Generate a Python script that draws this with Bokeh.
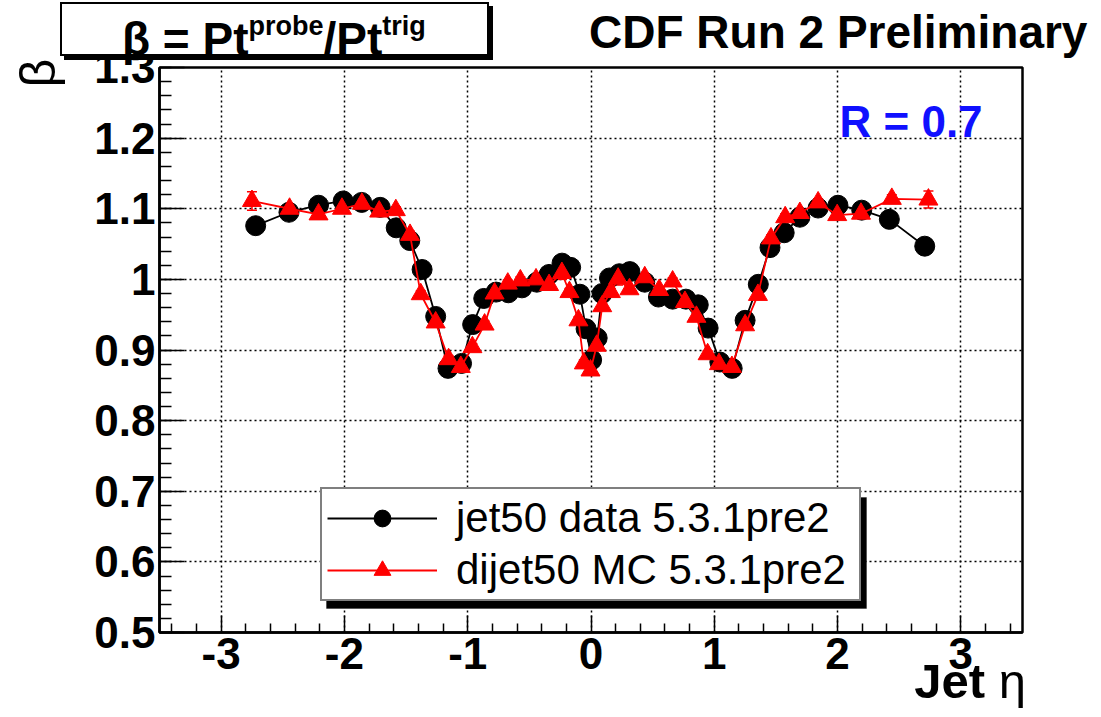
from bokeh.plotting import figure
from bokeh.models import (ColumnDataSource, FixedTicker, Label, Legend, LegendItem,
                          BoxAnnotation, Whisker, TeeHead, Range1d, Div)
from bokeh.embed import file_html
from bokeh.resources import INLINE

# ---------------- data ----------------
eta_data = [-2.72, -2.45, -2.21, -2.01, -1.86, -1.71, -1.58, -1.47, -1.37, -1.26, -1.16,
            -1.05, -0.96, -0.87, -0.77, -0.67, -0.56, -0.44, -0.34, -0.235, -0.165, -0.09,
            -0.04, 0.005, 0.05, 0.09, 0.15, 0.23, 0.315, 0.436, 0.547, 0.662, 0.77, 0.87,
            0.95, 1.045, 1.145, 1.25, 1.357, 1.452, 1.567, 1.694, 1.842, 2.003, 2.196, 2.42, 2.707]
beta_data = [1.076, 1.095, 1.105, 1.111, 1.109, 1.102, 1.073, 1.055, 1.014, 0.9475, 0.874,
             0.881, 0.936, 0.973, 0.982, 0.981, 0.988, 0.996, 1.007, 1.023, 1.017, 0.979,
             0.930, 0.886, 0.917, 0.980, 1.002, 1.008, 1.011, 0.996, 0.975, 0.972, 0.972, 0.964,
             0.931, 0.883, 0.874, 0.942, 0.993, 1.045, 1.066, 1.088, 1.101, 1.105, 1.098, 1.085, 1.047]

eta_mc = [-2.75, -2.445, -2.21, -2.02, -1.858, -1.718, -1.583, -1.468, -1.381, -1.26, -1.155,
          -1.056, -0.962, -0.863, -0.782, -0.675, -0.573, -0.446, -0.34, -0.236, -0.175, -0.102,
          -0.058, -0.004, 0.046, 0.091, 0.161, 0.22, 0.312, 0.436, 0.553, 0.662, 0.762, 0.855,
          0.946, 1.038, 1.143, 1.25, 1.354, 1.46, 1.575, 1.694, 1.842, 1.997, 2.19, 2.44, 2.737]
beta_mc = [1.111, 1.100, 1.092, 1.100, 1.107, 1.096, 1.098, 1.063, 0.979, 0.939, 0.887,
           0.876, 0.904, 0.936, 0.980, 0.994, 0.9985, 1.0, 0.992, 1.009, 0.982, 0.942,
           0.881, 0.871, 0.906, 0.962, 0.982, 1.001, 0.986, 1.003, 0.985, 0.997, 0.968, 0.947,
           0.894, 0.880, 0.876, 0.935, 0.978, 1.058, 1.088, 1.094, 1.109, 1.091, 1.093, 1.114, 1.113]
err_mc = [0.013, 0.006, 0.006, 0.005, 0.005, 0.005, 0.005, 0.005, 0.005, 0.005, 0.005,
          0.005, 0.005, 0.005, 0.005, 0.005, 0.005, 0.005, 0.005, 0.009, 0.005, 0.005,
          0.005, 0.005, 0.005, 0.005, 0.005, 0.009, 0.005, 0.005, 0.005, 0.005, 0.005, 0.005,
          0.005, 0.005, 0.005, 0.005, 0.005, 0.005, 0.005, 0.005, 0.005, 0.005, 0.006, 0.006, 0.012]

x_ticks = [-3, -2, -1, 0, 1, 2, 3]
x_tick_labels = ["-3", "-2", "-1", "0", "1", "2", "3"]
y_ticks = [0.5, 0.6, 0.7, 0.8, 0.9, 1, 1.1, 1.2, 1.3]
y_tick_labels = ["0.5", "0.6", "0.7", "0.8", "0.9", "1", "1.1", "1.2", "1.3"]
legend_labels = ["jet50 data 5.3.1pre2", "dijet50 MC 5.3.1pre2"]
x_title = ("Jet", "\u03b7")
y_title = "\u03b2"
corner_text = "R = 0.7"
header_text = "CDF Run 2 Preliminary"

# ---------------- layout ----------------
W, H = 1101, 717
FL, FR, FT, FB = 159, 1022, 67, 632   # frame edges in canvas pixels
XR = (-3.5, 3.5)
YR = (0.5, 1.3)
FONT = "Liberation Sans"


def dx(px):
    return XR[0] + (px - FL) / (FR - FL) * (XR[1] - XR[0])


def dy(py):
    return YR[1] - (py - FT) / (FB - FT) * (YR[1] - YR[0])


p = figure(width=W, height=H, output_backend="svg", toolbar_location=None,
           x_range=Range1d(*XR), y_range=Range1d(*YR),
           min_border_left=FL, min_border_right=W - FR,
           min_border_top=FT, min_border_bottom=H - FB)
p.background_fill_color = "white"
p.border_fill_color = "white"
p.outline_line_color = "black"
p.outline_line_width = 2.5

x_minor = [round(-3.4 + 0.2 * i, 2) for i in range(35)
           if abs(round(-3.4 + 0.2 * i, 2) - round(-3.4 + 0.2 * i)) > 1e-6]
y_minor = [round(0.5 + 0.02 * i, 3) for i in range(41)]
p.xaxis.ticker = FixedTicker(ticks=x_ticks, minor_ticks=x_minor)
p.yaxis.ticker = FixedTicker(ticks=y_ticks, minor_ticks=y_minor)
p.xaxis.major_label_overrides = {t: l for t, l in zip(x_ticks, x_tick_labels)}
p.yaxis.major_label_overrides = {t: l for t, l in zip(y_ticks, y_tick_labels)}

for ax in (p.xaxis, p.yaxis):
    ax.axis_line_color = "black"
    ax.axis_line_width = 2.5
    ax.major_tick_out = 0
    ax.minor_tick_out = 0
    ax.major_tick_line_color = "black"
    ax.minor_tick_line_color = "black"
    ax.major_tick_line_width = 1.5
    ax.minor_tick_line_width = 1.5
    ax.major_label_text_font = FONT
    ax.major_label_text_font_style = "bold"
    ax.major_label_text_font_size = "44px"
    ax.major_label_text_color = "black"
p.xaxis.major_tick_in = 17
p.xaxis.minor_tick_in = 9
p.yaxis.major_tick_in = 25
p.yaxis.minor_tick_in = 12
p.xaxis.major_label_standoff = 5
p.yaxis.major_label_standoff = 4

p.grid.grid_line_color = "black"
p.grid.grid_line_dash = "2 3"
p.grid.grid_line_width = 1.5

src_d = ColumnDataSource(dict(x=eta_data, y=beta_data))
src_m = ColumnDataSource(dict(x=eta_mc, y=beta_mc,
                              lo=[b - e for b, e in zip(beta_mc, err_mc)],
                              hi=[b + e for b, e in zip(beta_mc, err_mc)]))

l_d = p.line("x", "y", source=src_d, line_color="black", line_width=1.8)
s_d = p.scatter("x", "y", source=src_d, marker="circle", size=20, fill_color="black", line_color="black")

wh = Whisker(source=src_m, base="x", upper="hi", lower="lo", dimension="height",
             line_color="red", line_width=1.5,
             upper_head=TeeHead(size=10, line_color="red", line_width=1.5),
             lower_head=TeeHead(size=10, line_color="red", line_width=1.5))
p.add_layout(wh)
l_m = p.line("x", "y", source=src_m, line_color="red", line_width=1.8)
s_m = p.scatter("x", "y", source=src_m, marker="triangle", size=19, fill_color="red", line_color="red")

# legend shadow + legend
p.add_layout(BoxAnnotation(left=dx(326), right=dx(866), top=dy(497), bottom=dy(608),
                           fill_color="black", fill_alpha=1, line_color="black", level="annotation"))
legend = Legend(items=[LegendItem(label=legend_labels[0], renderers=[l_d, s_d]),
                       LegendItem(label=legend_labels[1], renderers=[l_m, s_m])],
                location=(320 - FL, FB - 601))
legend.label_text_font = FONT
legend.label_text_font_size = "42px"
legend.label_text_color = "black"
legend.glyph_width = 110
legend.glyph_height = 42
legend.label_height = 42
legend.label_width = 398
legend.label_standoff = 19
legend.spacing = 4
legend.padding = 5
legend.margin = 0
legend.border_line_color = "black"
legend.border_line_width = 2
legend.background_fill_color = "white"
legend.background_fill_alpha = 1
p.add_layout(legend)

p.add_layout(Label(x=dx(839), y=dy(121), text=corner_text, text_font=FONT, text_font_size="44px",
                   text_font_style="bold", text_color="#1010ff", text_baseline="alphabetic"))

# texts outside the plot frame (formula box, experiment tag, axis titles)
sup = "font-size:27px;line-height:0;vertical-align:20px;"
overlay_html = (
    f"<div style=\"position:relative;width:{W}px;height:{H}px;font-family:'{FONT}',Arial,sans-serif;"
    "font-weight:bold;color:black;\">"
    "<div style=\"position:absolute;left:60px;top:2px;width:429px;height:54px;background:white;"
    "border:2px solid black;box-shadow:4px 4px 0 black;\"></div>"
    "<div style=\"position:absolute;left:122px;top:16px;font-size:46px;line-height:46px;white-space:nowrap;\">"
    f"\u03b2 = Pt<span style=\"{sup}\">probe</span>/Pt<span style=\"{sup}\">trig</span></div>"
    "<div style=\"position:absolute;left:589px;top:9px;font-size:46px;line-height:46px;white-space:nowrap;\">"
    f"{header_text}</div>"
    f"<div style=\"position:absolute;right:{W - 1026}px;top:657px;font-size:49px;line-height:49px;"
    f"white-space:nowrap;\">{x_title[0]} <span style=\"font-weight:normal;\">{x_title[1]}</span></div>"
    "<div style=\"position:absolute;left:11px;top:46px;width:54px;height:54px;line-height:54px;"
    "text-align:center;font-size:50px;font-weight:normal;transform:rotate(-90deg);\">"
    f"{y_title}</div>"
    "</div>"
)
overlay = Div(text=overlay_html, width=W, height=H, margin=0,
              styles={"position": "absolute", "left": "0px", "top": "0px", "z-index": "10",
                      "pointer-events": "none", "margin": "0px", "padding": "0px"})

open("out.html", "w").write(file_html([p, overlay], INLINE))
